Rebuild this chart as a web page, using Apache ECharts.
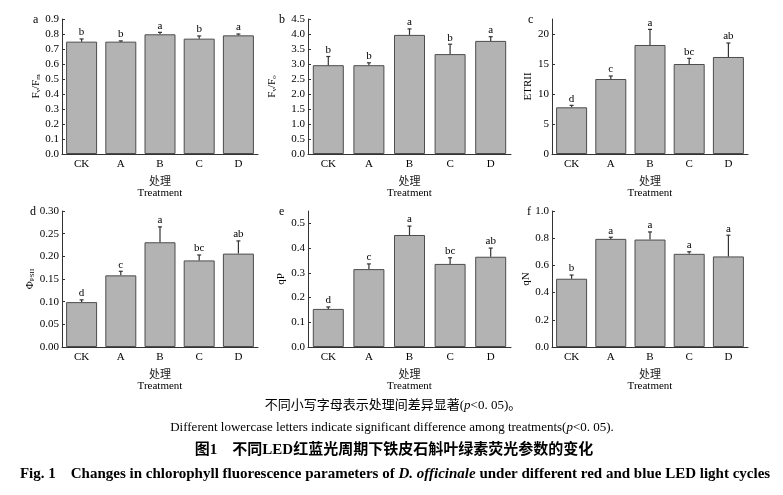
<!DOCTYPE html>
<html>
<head>
<meta charset="utf-8">
<script src="https://cdn.jsdelivr.net/npm/echarts@6/dist/echarts.min.js"></script>
<style>
  html, body { margin: 0; padding: 0; background: #fff; }
  #main { width: 783px; height: 495px; }
</style>
</head>
<body>
<div id="main"></div>
<script>
// 处理
const categories = ['CK', 'A', 'B', 'C', 'D'];

// a Fv/Fm
const fvfmMean = [0.749, 0.749, 0.798, 0.769, 0.791];
const fvfmSd = [0.018, 0.005, 0.013, 0.018, 0.009];
const fvfmLetters = ['b', 'b', 'a', 'b', 'a'];
// b Fv/Fo
const fvfoMean = [2.96, 2.96, 3.97, 3.33, 3.77];
const fvfoSd = [0.29, 0.08, 0.20, 0.33, 0.14];
const fvfoLetters = ['b', 'b', 'a', 'b', 'a'];
// c ETRII
const etrMean = [7.78, 12.5, 18.17, 15.0, 16.17];
const etrSd = [0.33, 0.5, 2.6, 0.94, 2.33];
const etrLetters = ['d', 'c', 'a', 'bc', 'ab'];
// d ΦPSII
const psiiMean = [0.099, 0.158, 0.231, 0.191, 0.206];
const psiiSd = [0.005, 0.009, 0.034, 0.012, 0.028];
const psiiLetters = ['d', 'c', 'a', 'bc', 'ab'];
// e qP
const qpMean = [0.154, 0.315, 0.453, 0.336, 0.365];
const qpSd = [0.008, 0.021, 0.036, 0.025, 0.035];
const qpLetters = ['d', 'c', 'a', 'bc', 'ab'];
// f qN
const qnMean = [0.502, 0.795, 0.790, 0.685, 0.666];
const qnSd = [0.027, 0.012, 0.056, 0.015, 0.156];
const qnLetters = ['b', 'a', 'a', 'a', 'a'];

// y轴刻度
const ticksA = [0, 0.1, 0.2, 0.3, 0.4, 0.5, 0.6, 0.7, 0.8, 0.9];
const ticksB = [0, 0.5, 1.0, 1.5, 2.0, 2.5, 3.0, 3.5, 4.0, 4.5];
const ticksC = [0, 5, 10, 15, 20];
const ticksD = [0, 0.05, 0.10, 0.15, 0.20, 0.25, 0.30];
const ticksE = [0, 0.1, 0.2, 0.3, 0.4, 0.5];
const ticksF = [0, 0.2, 0.4, 0.6, 0.8, 1.0];

const serif = 'Liberation Serif, "Noto Sans CJK SC", serif';
const dark = '#333';

const panels = [
  { tag: 'a', name: 'F{sub|v}/F{sub|m}', mean: fvfmMean, sd: fvfmSd, letters: fvfmLetters, max: 0.9, ticks: ticksA, dec: 1,
    grid: { left: 62, top: 19, width: 196, height: 135 }, gap: 20, tagX: 33 },
  { tag: 'b', name: 'F{sub|v}/F{sub|o}', mean: fvfoMean, sd: fvfoSd, letters: fvfoLetters, max: 4.5, ticks: ticksB, dec: 1,
    grid: { left: 308, top: 19, width: 203, height: 135 }, gap: 30, tagX: 279 },
  { tag: 'c', name: 'ETRII', mean: etrMean, sd: etrSd, letters: etrLetters, max: 22.5, ticks: ticksC, dec: 0,
    grid: { left: 552, top: 19, width: 196, height: 135 }, gap: 15, tagX: 528 },
  { tag: 'd', name: 'Φ{sub|PSII}', mean: psiiMean, sd: psiiSd, letters: psiiLetters, max: 0.30, ticks: ticksD, dec: 2,
    grid: { left: 62, top: 211, width: 196, height: 136 }, gap: 26, tagX: 30 },
  { tag: 'e', name: 'qP', mean: qpMean, sd: qpSd, letters: qpLetters, max: 0.55, ticks: ticksE, dec: 1,
    grid: { left: 308, top: 211, width: 203, height: 136 }, gap: 21, tagX: 279 },
  { tag: 'f', name: 'qN', mean: qnMean, sd: qnSd, letters: qnLetters, max: 1.0, ticks: ticksF, dec: 1,
    grid: { left: 552, top: 211, width: 196, height: 136 }, gap: 19, tagX: 527 }
];

const grids = [], xAxes = [], yAxes = [], series = [], graphics = [];

panels.forEach(function (p, i) {
  grids.push(p.grid);
  xAxes.push({
    type: 'category', gridIndex: i, data: categories,
    axisLine: { lineStyle: { color: dark, width: 1 } },
    axisTick: { show: false },
    axisLabel: { color: '#000', fontFamily: serif, fontSize: 11, margin: 5 },
    name: '{cn|处理}\n{en|Treatment}', nameLocation: 'middle', nameGap: 23,
    nameTextStyle: {
      rich: {
        cn: { fontFamily: serif, fontSize: 11, lineHeight: 11, color: '#222' },
        en: { fontFamily: serif, fontSize: 11, lineHeight: 11, color: '#000' }
      }
    }
  });
  yAxes.push({
    type: 'value', gridIndex: i, min: 0, max: p.max,
    axisLine: { show: true, lineStyle: { color: dark, width: 1 } },
    axisTick: { show: true, inside: true, length: 3, customValues: p.ticks, lineStyle: { color: dark } },
    axisLabel: {
      customValues: p.ticks, color: '#000', fontFamily: serif, fontSize: 11, margin: 3,
      formatter: function (v) { return v.toFixed(p.dec); }
    },
    splitLine: { show: false },
    name: p.name, nameLocation: 'middle', nameGap: p.gap, nameRotate: 90,
    nameTextStyle: {
      color: '#000', fontFamily: serif, fontSize: 11,
      rich: { sub: { fontFamily: serif, fontSize: 7, verticalAlign: 'bottom', padding: [4, 0, 0, 0] } }
    }
  });
  series.push({
    type: 'bar', xAxisIndex: i, yAxisIndex: i, data: p.mean, barWidth: 31,
    itemStyle: { color: '#b3b3b3', borderColor: '#4d4d4d', borderWidth: 1 },
    silent: true
  });
  // 误差线 + 显著性字母
  series.push({
    type: 'custom', xAxisIndex: i, yAxisIndex: i, z: 5, silent: true,
    data: p.mean.map(function (m, k) { return [k, m, m + p.sd[k]]; }),
    renderItem: function (params, api) {
      const p0 = api.coord([api.value(0), api.value(1)]);
      const p1 = api.coord([api.value(0), api.value(2)]);
      return {
        type: 'group',
        children: [
          { type: 'line', shape: { x1: p0[0], y1: p0[1], x2: p1[0], y2: p1[1] }, style: { stroke: dark, lineWidth: 1.2 } },
          { type: 'line', shape: { x1: p1[0] - 2, y1: p1[1], x2: p1[0] + 2, y2: p1[1] }, style: { stroke: dark, lineWidth: 1.2 } },
          { type: 'text', x: p1[0], y: p1[1] - 1,
            style: { text: p.letters[params.dataIndex], align: 'center', verticalAlign: 'bottom',
              font: '11px ' + serif, fill: '#000' } }
        ]
      };
    }
  });
  graphics.push({
    type: 'text', left: p.tagX, top: p.grid.top - 5,
    style: { text: p.tag, font: '12px ' + serif, fill: '#000' }
  });
});

// 图注
graphics.push(
  { type: 'text', x: 393, y: 406, style: { text: '不同小写字母表示处理间差异显著({i|p}<0. 05)。', align: 'center', verticalAlign: 'middle',
    font: '13px ' + serif, fill: '#000', rich: { i: { fontStyle: 'italic', fontFamily: serif, fontSize: 13 } } } },
  { type: 'text', x: 392, y: 428, style: { text: 'Different lowercase letters indicate significant difference among treatments({i|p}<0. 05).', align: 'center', verticalAlign: 'middle',
    font: '13px ' + serif, fill: '#000', rich: { i: { fontStyle: 'italic', fontFamily: serif, fontSize: 13 } } } },
  { type: 'text', x: 394, y: 450, style: { text: '图1　不同LED红蓝光周期下铁皮石斛叶绿素荧光参数的变化', align: 'center', verticalAlign: 'middle',
    font: 'bold 15px ' + serif, fill: '#000' } },
  { type: 'text', x: 395, y: 474, style: { text: 'Fig. 1　Changes in chlorophyll fluorescence parameters of {i|D. officinale} under different red and blue LED light cycles', align: 'center', verticalAlign: 'middle',
    font: 'bold 15px ' + serif, fill: '#000', rich: { i: { fontStyle: 'italic', fontWeight: 'bold', fontFamily: serif, fontSize: 15 } } } }
);

let myChart = echarts.init(document.getElementById('main'));
myChart.setOption({
  animation: false,
  grid: grids,
  xAxis: xAxes,
  yAxis: yAxes,
  series: series,
  graphic: graphics
});
</script>
</body>
</html>
